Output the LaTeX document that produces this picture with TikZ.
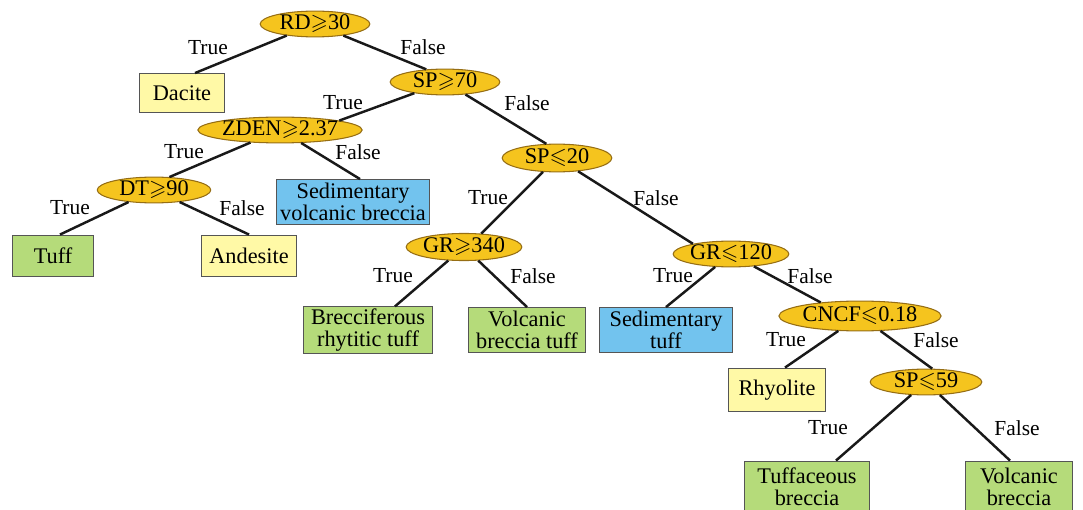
\documentclass[tikz,border=0pt]{standalone}
\usepackage{amssymb}
\usepackage{fontspec}
\setmainfont{Liberation Serif}
\usetikzlibrary{shapes.geometric}
\definecolor{gold}{RGB}{245,196,30}
\definecolor{goldline}{RGB}{150,110,20}
\definecolor{lemon}{RGB}{255,249,166}
\definecolor{leaf}{RGB}{181,219,122}
\definecolor{sky}{RGB}{114,195,238}
\definecolor{frame}{RGB}{85,85,85}
\tikzset{
  test/.style={ellipse,draw=goldline,fill=gold,line width=0.6pt,inner sep=0pt,
    minimum height=14.7pt,font=\fontsize{12.7}{14}\selectfont},
  leaf/.style={rectangle,draw=frame,fill=#1,line width=0.6pt,inner sep=1pt,
    align=center,font=\fontsize{12.7}{12.6}\selectfont},
  leaf/.default=leaf,
  link/.style={line width=1.4pt,draw=black!90},
  tag/.style={font=\fontsize{12.2}{14}\selectfont,inner sep=0pt},
}
\begin{document}
\begin{tikzpicture}[x=0.02cm,y=-0.02cm]
  \useasboundingbox (0,0) rectangle (1083,510);
  % split nodes
  \node[test,minimum width=62.4pt] (rd) at (315,24) {RD$\geqslant$30};
  \node[test,minimum width=62.4pt] (sp70) at (445,82) {SP$\geqslant$70};
  \node[test,minimum width=93.5pt] (zden) at (280,130) {ZDEN$\geqslant$2.37};
  \node[test,minimum width=64.6pt] (dt) at (154,190) {DT$\geqslant$90};
  \node[test,minimum width=62.4pt,minimum height=15.8pt] (sp20) at (557,158) {SP$\leqslant$20};
  \node[test,minimum width=61.8pt,minimum height=15.4pt] (gr340) at (464,247) {GR$\geqslant$340};
  \node[test,minimum width=61.8pt] (gr120) at (731,254) {GR$\leqslant$120};
  \node[test,minimum width=90.7pt,minimum height=17pt] (cncf) at (860,316) {CNCF$\leqslant$0.18};
  \node[test,minimum width=63.5pt] (sp59) at (926,382) {SP$\leqslant$59};
  % leaves
  \node[leaf=lemon,minimum width=48.2pt,minimum height=22.1pt] (dacite) at (182,93) {Dacite};
  \node[leaf=sky,minimum width=86.8pt,minimum height=25.5pt] (svb) at (353,202) {Sedimentary\\volcanic breccia};
  \node[leaf,minimum width=46.5pt,minimum height=23.8pt] (tuff) at (53,256) {Tuff};
  \node[leaf=lemon,minimum width=54.4pt,minimum height=23.8pt] (andesite) at (249,256) {Andesite};
  \node[leaf,minimum width=73.1pt,minimum height=25.5pt] (brt) at (368,330) {Brecciferous\\rhytitic tuff};
  \node[leaf,minimum width=66.3pt,minimum height=25.5pt] (vbt) at (527,330) {Volcanic\\breccia tuff};
  \node[leaf=sky,minimum width=75.4pt,minimum height=25.5pt] (sedtuff) at (666,330) {Sedimentary\\tuff};
  \node[leaf=lemon,minimum width=55.6pt,minimum height=24.9pt] (rhyolite) at (777,390) {Rhyolite};
  \node[leaf,minimum width=70.9pt,minimum height=29.5pt] (tb) at (807,487) {Tuffaceous\\breccia};
  \node[leaf,minimum width=60.7pt,minimum height=29.5pt] (vb) at (1019,487) {Volcanic\\breccia};
  % branches
  \draw[link] (rd) -- ([xshift=0.26cm]dacite.north);
  \draw[link] (rd) -- (sp70.146);
  \draw[link] (sp70) -- (zden.9);
  \draw[link] (sp70) -- (sp20.127);
  \draw[link] (zden) -- ([xshift=0.14cm]svb.north);
  \draw[link] (zden) -- (dt.40);
  \draw[link] (dt) -- ([xshift=0.14cm]tuff.north);
  \draw[link] (dt) -- (andesite.north);
  \draw[link] (sp20) -- (gr340.38);
  \draw[link] (sp20) -- (gr120.165);
  \draw[link] (gr340) -- ([xshift=0.54cm]brt.north);
  \draw[link] (gr340) -- (vbt.north);
  \draw[link] (gr120) -- (sedtuff.north);
  \draw[link] (gr120) -- (cncf.161);
  \draw[link] (cncf) -- ([xshift=0.16cm]rhyolite.north);
  \draw[link] (cncf) -- (sp59.65);
  \draw[link] (sp59) -- ([xshift=0.58cm]tb.north);
  \draw[link] (sp59) -- ([xshift=-0.18cm]vb.north);
  % branch labels
  \node[tag] (t1) at (208,48) {True};
  \node[tag] (f1) at (423,47) {False};
  \node[tag] (t2) at (343,103) {True};
  \node[tag] (f2) at (527,103) {False};
  \node[tag] (t3) at (184,152) {True};
  \node[tag] (f3) at (358,152) {False};
  \node[tag] (t4) at (70,208) {True};
  \node[tag] (f4) at (242,208) {False};
  \node[tag] (t5) at (488,198) {True};
  \node[tag] (f5) at (656,198) {False};
  \node[tag] (t6) at (393,276) {True};
  \node[tag] (f6) at (533,276) {False};
  \node[tag] (t7) at (673,276) {True};
  \node[tag] (f7) at (810,276) {False};
  \node[tag] (t8) at (786,340) {True};
  \node[tag] (f8) at (936,340) {False};
  \node[tag] (t9) at (828,428) {True};
  \node[tag] (f9) at (1017,428) {False};
\end{tikzpicture}
\end{document}
